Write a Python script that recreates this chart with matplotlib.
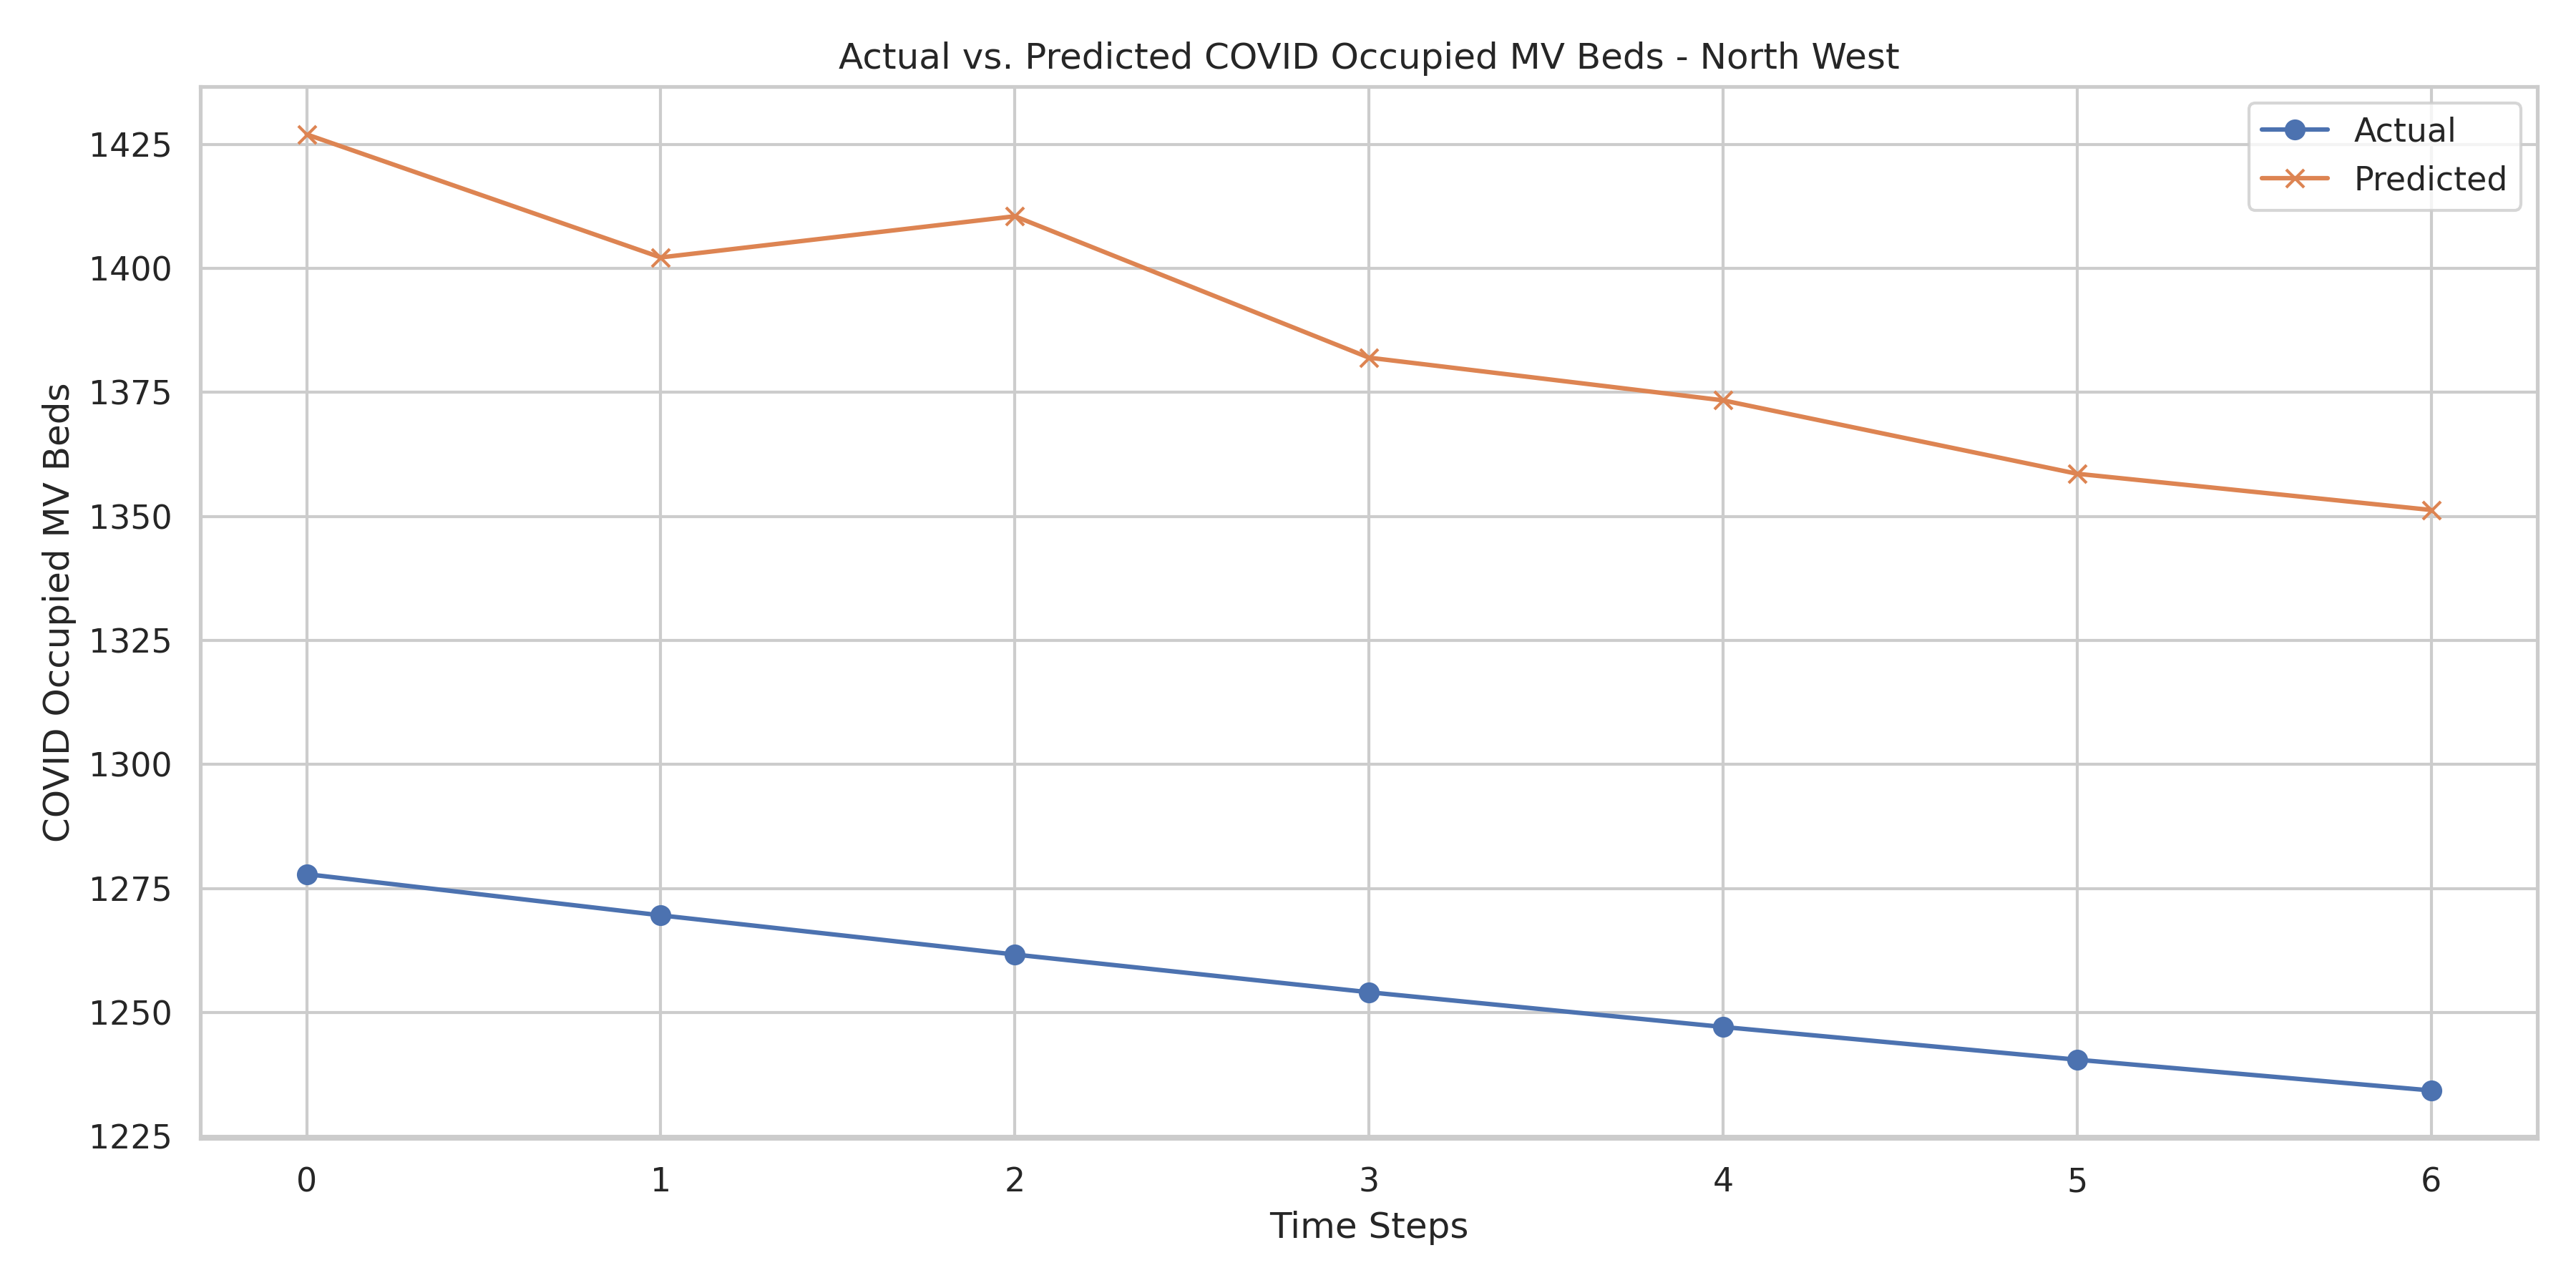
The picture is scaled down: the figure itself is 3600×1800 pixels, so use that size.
import matplotlib
matplotlib.use('Agg')
import matplotlib.pyplot as plt
import seaborn as sns

steps = [0, 1, 2, 3, 4, 5, 6]
actual = [1277.9, 1269.6, 1261.7, 1254.1, 1247.1, 1240.5, 1234.3]
predicted = [1427.0, 1402.2, 1410.5, 1382.0, 1373.4, 1358.6, 1351.3]

sns.set_theme(style='whitegrid')
fig, ax = plt.subplots(figsize=(12, 6))
ax.plot(steps, actual, marker='o', label='Actual')
ax.plot(steps, predicted, marker='x', label='Predicted')
ax.set_title('Actual vs. Predicted COVID Occupied MV Beds - North West')
ax.set_xlabel('Time Steps')
ax.set_ylabel('COVID Occupied MV Beds')
ax.legend()
fig.tight_layout()
fig.savefig('out.png', dpi=300)
